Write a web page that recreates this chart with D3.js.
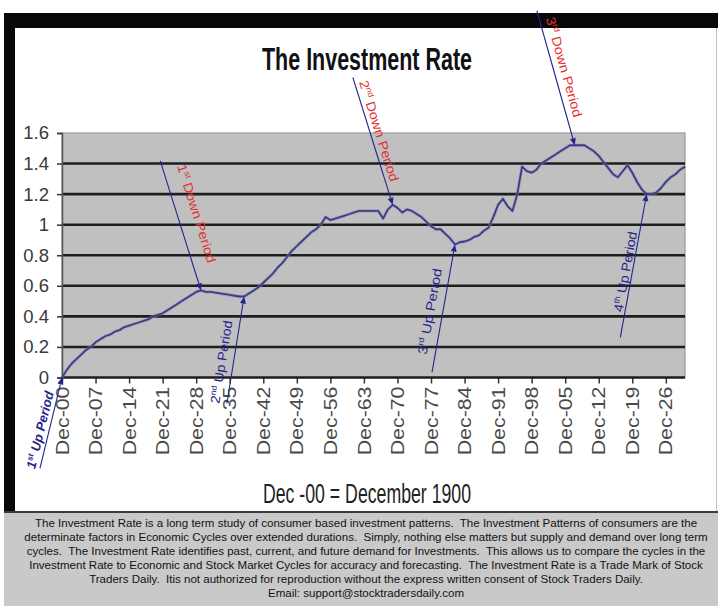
<!DOCTYPE html>
<html>
<head>
<meta charset="utf-8">
<script src="https://cdn.jsdelivr.net/npm/d3@7"></script>
<style>
  body { margin: 0; background: #fff; }
  text { font-family: "Liberation Sans", Arial, sans-serif; }
</style>
</head>
<body>
<div id="chart"></div>
<script>
// Investment Rate, one value per December, 1900 .. 2030
const startYear = 1900;
const rate = [
  0.00, 0.05, 0.09, 0.12, 0.15, 0.18, 0.20, 0.23, 0.25, 0.27,
  0.28, 0.30, 0.31, 0.33, 0.34, 0.35, 0.36, 0.37, 0.38, 0.40,
  0.41, 0.42, 0.44, 0.46, 0.48, 0.50, 0.52, 0.54, 0.56, 0.57,
  0.56, 0.56, 0.555, 0.55, 0.545, 0.54, 0.535, 0.53, 0.53, 0.55,
  0.57, 0.59, 0.62, 0.65, 0.68, 0.72, 0.75, 0.79, 0.83, 0.86,
  0.89, 0.92, 0.95, 0.97, 1.00, 1.05, 1.03, 1.04, 1.05, 1.06,
  1.07, 1.08, 1.09, 1.09, 1.09, 1.09, 1.09, 1.04, 1.10, 1.13,
  1.11, 1.08, 1.10, 1.09, 1.07, 1.05, 1.02, 0.99, 0.97, 0.97,
  0.94, 0.91, 0.87, 0.885, 0.89, 0.90, 0.92, 0.93, 0.96, 0.98,
  1.05, 1.13, 1.17, 1.12, 1.09, 1.20, 1.38, 1.35, 1.34, 1.36,
  1.40, 1.42, 1.44, 1.46, 1.48, 1.50, 1.52, 1.52, 1.52, 1.52,
  1.50, 1.48, 1.45, 1.41, 1.37, 1.33, 1.31, 1.35, 1.39, 1.34,
  1.28, 1.23, 1.20, 1.20, 1.21, 1.24, 1.28, 1.31, 1.33, 1.36,
  1.38
];
const yTicks = [0, 0.2, 0.4, 0.6, 0.8, 1, 1.2, 1.4, 1.6];
const xTickYears = [1900, 1907, 1914, 1921, 1928, 1935, 1942, 1949, 1956, 1963,
  1970, 1977, 1984, 1991, 1998, 2005, 2012, 2019, 2026];
const xTickLabels = ["Dec-00", "Dec-07", "Dec-14", "Dec-21", "Dec-28", "Dec-35", "Dec-42",
  "Dec-49", "Dec-56", "Dec-63", "Dec-70", "Dec-77", "Dec-84", "Dec-91", "Dec-98",
  "Dec-05", "Dec-12", "Dec-19", "Dec-26"];

// the up / down periods marked on the chart, pointing at a year of the series
const periodNums = ["1", "1", "2", "2", "3", "3", "4"];
const periodSups = ["st", "st", "nd", "nd", "rd", "rd", "th"];
const periodKinds = ["Up", "Down", "Up", "Down", "Down", "Up", "Up"];
const periodYears = [1900, 1929, 1938, 1969, 2007, 1982, 2022];

const title = "The Investment Rate";
const xNote = "Dec -00 = December 1900";
const footerLines = [
  "The Investment Rate is a long term study of consumer based investment patterns.  The Investment Patterns of consumers are the",
  "determinate factors in Economic Cycles over extended durations.  Simply, nothing else matters but supply and demand over long term",
  "cycles.  The Investment Rate identifies past, current, and future demand for Investments.  This allows us to compare the cycles in the",
  "Investment Rate to Economic and Stock Market Cycles for accuracy and forecasting.  The Investment Rate is a Trade Mark of Stock",
  "Traders Daily.  Itis not authorized for reproduction without the express written consent of Stock Traders Daily.",
  "Email: support@stocktradersdaily.com"
];

// where each arrow starts (in data units) and where its label sits along it
const periodLayout = [
  {tail: [1895.4, -0.595], t: 0.40, side: 9,  stretch: 1.0},
  {tail: [1920.5, 1.418],  t: 0.45, side: 19, stretch: 1.12},
  {tail: [1934.4, -0.17],  t: 0.37, side: 12, stretch: 1.08},
  {tail: [1960.7, 1.963],  t: 0.44, side: 9,  stretch: 1.12},
  {tail: [1999.1, 2.40],   t: 0.44, side: 11, stretch: 1.12},
  {tail: [1977.2, 0.033],  t: 0.46, side: 13, stretch: 1.15},
  {tail: [2016.5, 0.263],  t: 0.45, side: 7,  stretch: 1.08}
];

const W = 718, H = 606;
const navy = "#24248c", red = "#e23232";

const svg = d3.select("#chart").append("svg")
    .attr("width", W)
    .attr("height", H);

// frame: black band left/top, white chart panel, grey footer
svg.append("rect").attr("width", W).attr("height", H).attr("fill", "#fff");
svg.append("rect").attr("x", 4).attr("y", 13).attr("width", W - 4).attr("height", 499).attr("fill", "#080808");
svg.append("rect").attr("x", 15).attr("y", 28).attr("width", W - 15).attr("height", 483).attr("fill", "#fff");
svg.append("line").attr("x1", 716.5).attr("x2", 716.5).attr("y1", 28).attr("y2", 511)
    .attr("stroke", "#c4c4c4");
svg.append("rect").attr("x", 4).attr("y", 511).attr("width", W - 4).attr("height", H - 511)
    .attr("fill", "#c9c9c9");
svg.append("line").attr("x1", 4).attr("x2", W).attr("y1", 512).attr("y2", 512)
    .attr("stroke", "#3a3a3a").attr("stroke-width", 2);

const x = d3.scaleLinear().domain([1900, 2030]).range([62, 685]);
const y = d3.scaleLinear().domain([0, 1.6]).range([377.5, 133]);

// plot area
svg.append("rect")
    .attr("x", x(1900)).attr("y", y(1.6))
    .attr("width", x(2030) - x(1900)).attr("height", y(0) - y(1.6))
    .attr("fill", "#c0c0c0")
    .attr("stroke", "#9a9a9a")
    .attr("stroke-width", 1.2);

svg.append("g")
    .selectAll("line")
    .data(yTicks.filter(d => d > 0 && d < 1.6))
    .enter()
    .append("line")
    .attr("x1", x(1900)).attr("x2", x(2030))
    .attr("y1", d => y(d)).attr("y2", d => y(d))
    .attr("stroke", "#1e1e1e")
    .attr("stroke-width", 2.6);

// y axis
const yAxis = d3.axisLeft(y).tickValues(yTicks).tickSize(5).tickPadding(8)
    .tickFormat(d => d3.format("")(+d.toFixed(1)));
const gy = svg.append("g")
    .attr("transform", "translate(" + x(1900) + ",0)")
    .call(yAxis);
gy.select(".domain").attr("stroke", "#555").attr("stroke-width", 1.5);
gy.selectAll(".tick line").attr("stroke", "#333").attr("stroke-width", 1.5);
gy.selectAll(".tick text")
    .attr("font-size", 18.5)
    .attr("fill", "#3a3a3a");

// x axis
const xAxis = d3.axisBottom(x).tickValues(xTickYears).tickSize(6)
    .tickFormat((d, i) => xTickLabels[i]);
const gx = svg.append("g")
    .attr("transform", "translate(0," + y(0) + ")")
    .call(xAxis);
gx.select(".domain").remove();
gx.selectAll(".tick line").attr("stroke", "#333").attr("stroke-width", 1.5);
gx.selectAll(".tick text")
    .attr("font-size", 17.5)
    .attr("fill", "#4a4a4a")
    .attr("text-anchor", "end")
    .attr("y", 0)
    .attr("dy", "0.35em")
    .attr("transform", "translate(0,9) rotate(-90) scale(1.22,1)");

svg.append("line")
    .attr("x1", x(1900)).attr("x2", x(2030))
    .attr("y1", y(0)).attr("y2", y(0))
    .attr("stroke", "#1e1e1e")
    .attr("stroke-width", 2.6);

// the series
const line = d3.line()
    .x((d, i) => x(startYear + i))
    .y(d => y(d));
svg.append("path")
    .attr("d", line(rate))
    .attr("fill", "none")
    .attr("stroke", "#8a8ac0")
    .attr("stroke-width", 3.4)
    .attr("stroke-opacity", 0.5)
    .attr("stroke-linejoin", "round");
svg.append("path")
    .attr("d", line(rate))
    .attr("fill", "none")
    .attr("stroke", "#3c3c84")
    .attr("stroke-width", 1.8)
    .attr("stroke-linejoin", "round");

// period arrows and their labels
periodYears.forEach((yr, i) => {
  const lay = periodLayout[i];
  const x0 = x(lay.tail[0]), y0 = y(lay.tail[1]);
  const x1 = x(yr), y1 = y(rate[yr - startYear]);
  const len = Math.hypot(x1 - x0, y1 - y0);
  const dx = (x1 - x0) / len, dy = (y1 - y0) / len;
  const ah = 7, aw = 3;

  svg.append("line")
      .attr("x1", x0).attr("y1", y0)
      .attr("x2", x1 - dx * ah).attr("y2", y1 - dy * ah)
      .attr("stroke", navy)
      .attr("stroke-width", 1.1);
  svg.append("path")
      .attr("d", "M" + x1 + "," + y1 +
          "L" + (x1 - dx * ah - dy * aw) + "," + (y1 - dy * ah + dx * aw) +
          "L" + (x1 - dx * ah + dy * aw) + "," + (y1 - dy * ah - dx * aw) + "Z")
      .attr("fill", navy);

  const cx = x0 + (x1 - x0) * lay.t + dy * lay.side;
  const cy = y0 + (y1 - y0) * lay.t - dx * lay.side;
  const angle = Math.atan2(dy, dx) * 180 / Math.PI;
  const isDown = periodKinds[i] === "Down";

  const label = svg.append("text")
      .attr("transform", "translate(" + cx + "," + cy + ") rotate(" + angle + ") scale(" + lay.stretch + ",1)")
      .attr("text-anchor", "middle")
      .attr("font-size", 13)
      .attr("fill", isDown ? red : navy)
      .attr("font-weight", i === 0 ? "bold" : "normal")
      .attr("font-style", i === 0 ? "italic" : "normal");
  label.append("tspan").attr("dy", "0.35em").text(periodNums[i]);
  label.append("tspan").attr("dy", -5).attr("font-size", 8).text(periodSups[i]);
  label.append("tspan").attr("dy", 5).text(" " + periodKinds[i] + " Period");
});

// titles
svg.append("text")
    .attr("transform", "translate(367,70) scale(0.826,1.236)")
    .attr("text-anchor", "middle")
    .attr("font-size", 26)
    .attr("font-weight", "bold")
    .attr("fill", "#111")
    .text(title);

svg.append("text")
    .attr("transform", "translate(367,503) scale(0.843,1.33)")
    .attr("text-anchor", "middle")
    .attr("font-size", 21)
    .attr("fill", "#222")
    .text(xNote);

// footer note
svg.append("g")
    .selectAll("text")
    .data(footerLines)
    .enter()
    .append("text")
    .attr("transform", (d, i) => "translate(366," + (526.5 + i * 14) + ") scale(1.1,1.12)")
    .attr("text-anchor", "middle")
    .attr("font-size", 10.5)
    .attr("fill", "#111")
    .style("white-space", "pre")
    .text(d => d);
</script>
</body>
</html>
